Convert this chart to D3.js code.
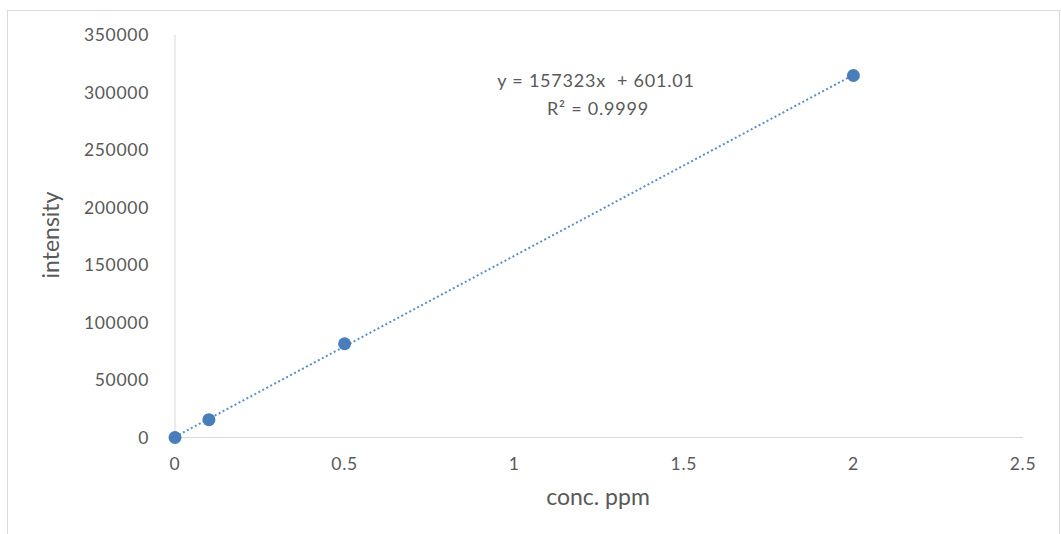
<!DOCTYPE html>
<html>
<head>
<meta charset="utf-8">
<script src="https://cdn.jsdelivr.net/npm/d3@7"></script>
<style>
  body { margin: 0; background: #fff; }
  text { font-family: Lato, "Open Sans", sans-serif; fill: #595959; white-space: pre; }
</style>
</head>
<body>
<svg id="chart"></svg>
<script>
// data
const concPpm = [0, 0.1, 0.5, 2];
const intensity = [0, 15500, 81500, 314800];
const xTicks = [0, 0.5, 1, 1.5, 2, 2.5];
const yTicks = [0, 50000, 100000, 150000, 200000, 250000, 300000, 350000];
const trendX = [0, 2];
const slope = 157323, intercept = 601.01;
const eqLabel = "y = 157323x  + 601.01";
const r2Label = "R² = 0.9999";

const width = 1061, height = 534;
const svg = d3.select("#chart").attr("width", width).attr("height", height);

// outer frame
svg.append("rect")
  .attr("x", 7.5).attr("y", 10.5)
  .attr("width", 1052).attr("height", 540)
  .attr("fill", "none").attr("stroke", "#d9d9d9");

const x = d3.scaleLinear().domain([0, 2.5]).range([175, 1023]);
const y = d3.scaleLinear().domain([0, 350000]).range([437.5, 35]);

// axes lines
svg.append("line")
  .attr("x1", x(0)).attr("x2", x(0)).attr("y1", y(350000)).attr("y2", y(0))
  .attr("stroke", "#d9d9d9");
svg.append("line")
  .attr("x1", x(0)).attr("x2", x(2.5)).attr("y1", y(0)).attr("y2", y(0))
  .attr("stroke", "#d9d9d9");

// tick labels
svg.selectAll(".ytick").data(yTicks).join("text")
  .attr("x", 149).attr("y", d => y(d))
  .attr("dy", "0.35em").attr("text-anchor", "end")
  .attr("font-size", 17.5).attr("letter-spacing", 0.7)
  .text(d => d);

svg.selectAll(".xtick").data(xTicks).join("text")
  .attr("x", d => x(d)).attr("y", 464)
  .attr("dy", "0.35em").attr("text-anchor", "middle")
  .attr("font-size", 17.5).attr("letter-spacing", 0.7)
  .text(d => d);

// axis titles
svg.append("text")
  .attr("transform", `translate(59,235) rotate(-90)`)
  .attr("text-anchor", "middle").attr("font-size", 23)
  .text("intensity");
svg.append("text")
  .attr("x", 598).attr("y", 505)
  .attr("text-anchor", "middle").attr("font-size", 23)
  .text("conc. ppm");

// trend line
svg.append("line")
  .attr("x1", x(trendX[0])).attr("y1", y(slope * trendX[0] + intercept))
  .attr("x2", x(trendX[1])).attr("y2", y(slope * trendX[1] + intercept))
  .attr("stroke", "#5b8ec9").attr("stroke-width", 2)
  .attr("stroke-dasharray", "2,2.5");

// points
svg.selectAll(".pt").data(concPpm).join("circle")
  .attr("cx", d => x(d)).attr("cy", (d, i) => y(intensity[i]))
  .attr("r", 6.5).attr("fill", "#4a7ebb");

// equation label
svg.append("text")
  .attr("x", 596).attr("y", 87)
  .attr("text-anchor", "middle").attr("font-size", 18).attr("letter-spacing", 0.8)
  .text(eqLabel);
svg.append("text")
  .attr("x", 598).attr("y", 115)
  .attr("text-anchor", "middle").attr("font-size", 18).attr("letter-spacing", 0.8)
  .text(r2Label);
</script>
</body>
</html>
